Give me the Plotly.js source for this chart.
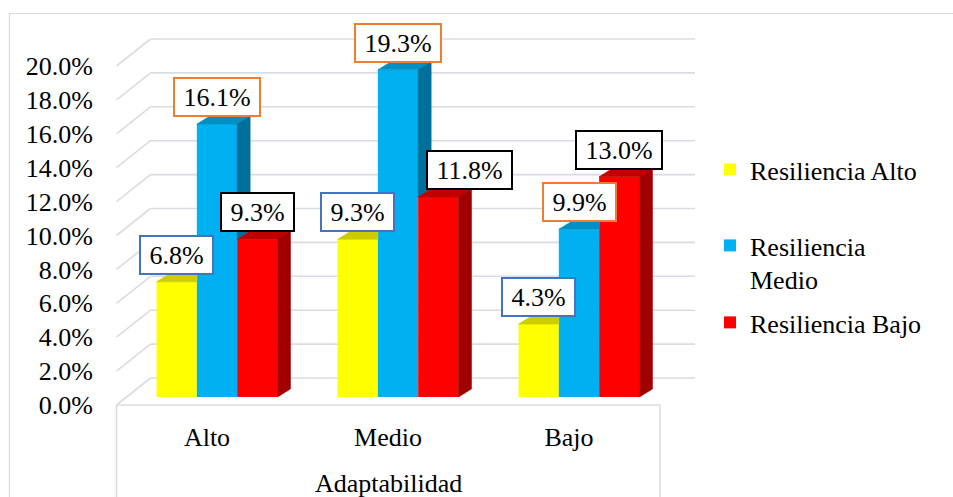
<!DOCTYPE html>
<html>
<head>
<meta charset="utf-8">
<script src="https://cdn.plot.ly/plotly-3.0.1.min.js"></script>
<style>
  html, body { margin: 0; padding: 0; background: #ffffff; }
  #chart { width: 953px; height: 497px; }
</style>
</head>
<body>
<div id="chart"></div>
<script>
// ---- data -----------------------------------------------------------------
const categories = ['Alto', 'Medio', 'Bajo'];
const seriesNames = ['Resiliencia Alto', 'Resiliencia Medio', 'Resiliencia Bajo'];
const legendLabels = ['Resiliencia Alto', 'Resiliencia<br>Medio', 'Resiliencia Bajo'];
const resilienciaAlto = [6.8, 9.3, 4.3];
const resilienciaMedio = [16.1, 19.3, 9.9];
const resilienciaBajo = [9.3, 11.8, 13.0];
const yTickValues = [0, 2, 4, 6, 8, 10, 12, 14, 16, 18, 20];
const yTickLabels = yTickValues.map(v => v.toFixed(1) + '%');
const categoryAxisTitle = 'Adaptabilidad';

const seriesValues = [resilienciaAlto, resilienciaMedio, resilienciaBajo];

// ---- styling --------------------------------------------------------------
const FONT = "'Liberation Serif', 'Times New Roman', serif";
const FONT_SIZE = 26;
const frontColors = ['#FFFF00', '#00B0F0', '#FF0000'];
const topColors = ['#CCCC00', '#0090C4', '#C00000'];
const sideColors = ['#A6A600', '#00709A', '#A00000'];
const labelBorders = ['#4472C4', '#ED7D31', '#000000'];
const gridColor = '#D9DCE2';

// ---- page geometry (pixels) -------------------------------------------------
const W = 953, H = 497;
const plotL = 100, plotR = 705, plotT = 20, plotB = 410;
const frontZeroPx = 405;      // 0 % on the front plane
const pxPerPct = 16.95;
const firstCatPx = 207, catStepPx = 181;

const yRange = [(frontZeroPx - plotB) / pxPerPct, (frontZeroPx - plotT) / pxPerPct];
const xRange = [(plotL - firstCatPx) / catStepPx, (plotR - firstCatPx) / catStepPx];
const dX = px => px / catStepPx;
const dY = px => px / pxPerPct;
const xAt = px => (px - firstCatPx) / catStepPx;
const paperX = px => (px - plotL) / (plotR - plotL);
const paperY = py => (plotB - py) / (plotB - plotT);

// pseudo-3D depth offsets
const wallDepth = { dx: dX(34), dy: dY(27) };   // back wall
const barPlane = { dx: dX(10), dy: dY(8) };     // bar front faces
const barDepth = { dx: dX(13), dy: dY(8) };     // bar thickness
const barW = dX(40.3);
const floorLeft = xAt(116.5), floorRight = xAt(660), wallRight = xAt(695);

// ---- traces -----------------------------------------------------------------
const traces = [];
const faceTraces = [];
const annotations = [];

const measure = (() => {
  const ctx = document.createElement('canvas').getContext('2d');
  ctx.font = FONT_SIZE + "px 'Liberation Serif'";
  return t => ctx.measureText(t).width;
})();

const labelShiftX = { 'Medio|2': 31 };

seriesValues.forEach((vals, s) => {
  const off = barPlane.dx + (s - 1) * barW - barW / 2;
  traces.push({
    type: 'bar',
    name: legendLabels[s],
    x: categories.map((c, i) => i),
    y: vals,
    base: barPlane.dy,
    offset: off,
    width: barW,
    marker: { color: frontColors[s], line: { width: 0 } },
    hoverinfo: 'skip',
    legend: s === 0 ? 'legend' : 'legend' + (s + 1)
  });

  vals.forEach((v, i) => {
    const L = i + off, R = L + barW;
    const b = barPlane.dy, t = b + v;
    const next = s < seriesValues.length - 1 ? seriesValues[s + 1][i] : null;
    const face = (xs, ys, color) => faceTraces.push({
      type: 'scatter', mode: 'lines', x: xs, y: ys, fill: 'toself',
      fillcolor: color, line: { width: 0.6, color: color },
      hoverinfo: 'skip', showlegend: false
    });

    // top face (clipped where the next, taller bar hides it)
    if (next !== null && next > v) {
      face([L, R, R, L + barDepth.dx, L],
           [t, t, t + barDepth.dy, t + barDepth.dy, t], topColors[s]);
    } else {
      face([L, R, R + barDepth.dx, L + barDepth.dx, L],
           [t, t, t + barDepth.dy, t + barDepth.dy, t], topColors[s]);
    }
    // right side face, only the part not hidden by the neighbour
    const lo = next !== null ? b + next : b;
    if (t > lo) {
      face([R, R + barDepth.dx, R + barDepth.dx, R, R],
           [lo, lo + barDepth.dy, t + barDepth.dy, t, lo], sideColors[s]);
    }

    // value label
    const txt = v.toFixed(1) + '%';
    annotations.push({
      x: (L + R) / 2, y: t, xref: 'x', yref: 'y',
      xanchor: 'center', yanchor: 'bottom',
      yshift: 7, xshift: labelShiftX[categories[i] + '|' + s] || 0,
      text: txt, showarrow: false,
      font: { family: FONT, size: FONT_SIZE, color: '#000000' },
      bgcolor: '#FFFFFF', bordercolor: labelBorders[s], borderwidth: 2, borderpad: 0,
      width: measure(txt) + 17, height: 36
    });
  });
});

// category axis title
annotations.push({
  x: (floorLeft + floorRight) / 2, xref: 'x',
  y: paperY(483), yref: 'paper', xanchor: 'center', yanchor: 'middle',
  text: categoryAxisTitle, showarrow: false,
  font: { family: FONT, size: FONT_SIZE, color: '#000000' }
});

// ---- wall, floor and frame ----------------------------------------------------
const shapes = [];
const seg = (x0, y0, x1, y1, extra) => shapes.push(Object.assign({
  type: 'line', xref: 'x', yref: 'y', x0, y0, x1, y1, layer: 'below',
  line: { color: gridColor, width: 1.6 }
}, extra || {}));

yTickValues.forEach(v => {
  const backL = floorLeft + wallDepth.dx, backY = v + wallDepth.dy;
  seg(floorLeft, v, backL, backY);
  seg(backL, backY, wallRight, backY);
});
// front edge of the floor and the category box
seg(floorLeft, 0, floorRight, 0);
seg(floorLeft, paperY(frontZeroPx), floorLeft, paperY(520), { yref: 'paper' });
seg(floorRight, paperY(frontZeroPx), floorRight, paperY(520), { yref: 'paper' });
// outer chart frame
shapes.push({
  type: 'rect', xref: 'paper', yref: 'paper', layer: 'below',
  x0: paperX(9.5), x1: paperX(970), y0: paperY(13.5), y1: paperY(520),
  line: { color: '#D9D9D9', width: 1.2 }, fillcolor: 'rgba(0,0,0,0)'
});

// ---- legends -------------------------------------------------------------------
const legendBase = {
  xref: 'container', yref: 'container', xanchor: 'left', yanchor: 'top',
  x: 710 / W, bgcolor: 'rgba(0,0,0,0)', borderwidth: 0, valign: 'top',
  font: { family: FONT, size: FONT_SIZE, color: '#000000' }
};
const legendTops = [146, 222, 299];

const layout = {
  width: W, height: H, autosize: false,
  margin: { l: plotL, r: W - plotR, t: plotT, b: H - plotB, pad: 0 },
  paper_bgcolor: '#FFFFFF', plot_bgcolor: 'rgba(0,0,0,0)',
  barmode: 'overlay',
  showlegend: true,
  xaxis: {
    range: xRange, tickvals: categories.map((c, i) => i), ticktext: categories,
    showgrid: false, zeroline: false, showline: false, ticks: '',
    ticklabelstandoff: 9, fixedrange: true,
    tickfont: { family: FONT, size: FONT_SIZE, color: '#000000' }
  },
  yaxis: {
    range: yRange, tickvals: yTickValues, ticktext: yTickLabels,
    showgrid: false, zeroline: false, showline: false, ticks: '',
    ticklabelstandoff: 6, fixedrange: true,
    tickfont: { family: FONT, size: FONT_SIZE, color: '#000000' }
  },
  legend: Object.assign({}, legendBase, { y: 1 - legendTops[0] / H }),
  legend2: Object.assign({}, legendBase, { y: 1 - legendTops[1] / H }),
  legend3: Object.assign({}, legendBase, { y: 1 - legendTops[2] / H }),
  shapes: shapes,
  annotations: annotations
};

Plotly.newPlot('chart', traces.concat(faceTraces), layout, { staticPlot: true, displayModeBar: false });
</script>
</body>
</html>
